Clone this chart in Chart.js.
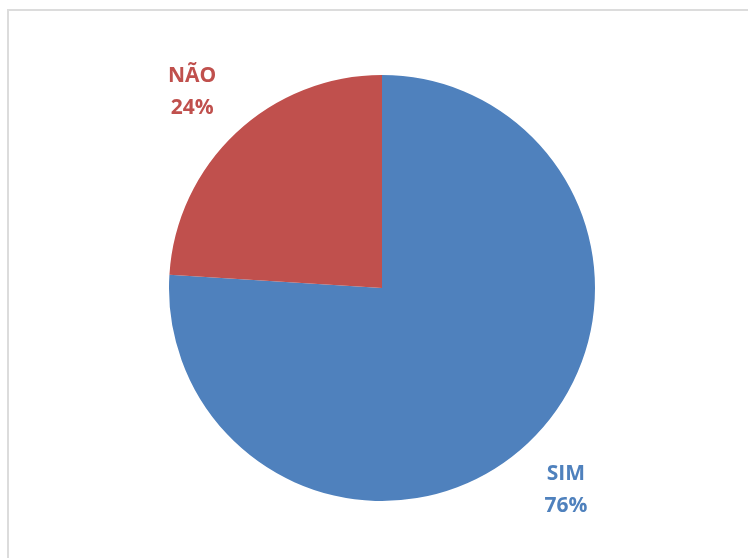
<!DOCTYPE html>
<html lang="pt">
<head>
    <meta charset="UTF-8">
    <title>SIM / NÃO</title>
    <style>
        body {
            margin: 0;
            background: #fff;
            width: 748px;
            height: 558px;
            overflow: hidden;
            position: relative;
        }
        .frame {
            position: absolute;
            left: 7px;
            top: 9px;
            width: 760px;
            height: 570px;
            border: 2px solid #dcdcdc;
            box-sizing: border-box;
        }
        .chart-box {
            position: absolute;
            left: 0;
            top: 0;
            width: 748px;
            height: 558px;
        }
    </style>
    <script src="https://cdn.jsdelivr.net/npm/chart.js"></script>
</head>
<body>
    <div class="frame"></div>
    <div class="chart-box">
        <canvas id="pieChart" width="748" height="558"></canvas>
    </div>
    <script>
        const categories = ['SIM', 'NÃO'];
        const values = [76, 24];
        const colors = ['#4F81BD', '#C0504D'];

        // label "NAME / xx%" outside each slice, along its middle angle
        const outsideLabels = {
            id: 'outsideLabels',
            afterDatasetsDraw(chart) {
                const ctx = chart.ctx;
                const meta = chart.getDatasetMeta(0);
                const total = values.reduce((a, b) => a + b, 0);
                ctx.save();
                ctx.font = 'bold 21px "Open Sans", sans-serif';
                ctx.textAlign = 'center';
                ctx.textBaseline = 'middle';
                meta.data.forEach((arc, i) => {
                    const mid = (arc.startAngle + arc.endAngle) / 2;
                    const dist = arc.outerRadius + 60;
                    const x = arc.x + Math.cos(mid) * dist - 3;
                    const y = arc.y + Math.sin(mid) * dist + 3;
                    ctx.fillStyle = colors[i];
                    ctx.fillText(categories[i], x, y - 16);
                    ctx.fillText(Math.round(values[i] / total * 100) + '%', x, y + 16);
                });
                ctx.restore();
            }
        };

        new Chart(document.getElementById('pieChart'), {
            type: 'pie',
            data: {
                labels: categories,
                datasets: [{
                    data: values,
                    backgroundColor: colors,
                    borderWidth: 0
                }]
            },
            options: {
                responsive: false,
                animation: false,
                layout: {
                    padding: { top: 75, bottom: 57, left: 100, right: 84 }
                },
                plugins: {
                    legend: { display: false },
                    tooltip: { enabled: false }
                }
            },
            plugins: [outsideLabels]
        });
    </script>
</body>
</html>
